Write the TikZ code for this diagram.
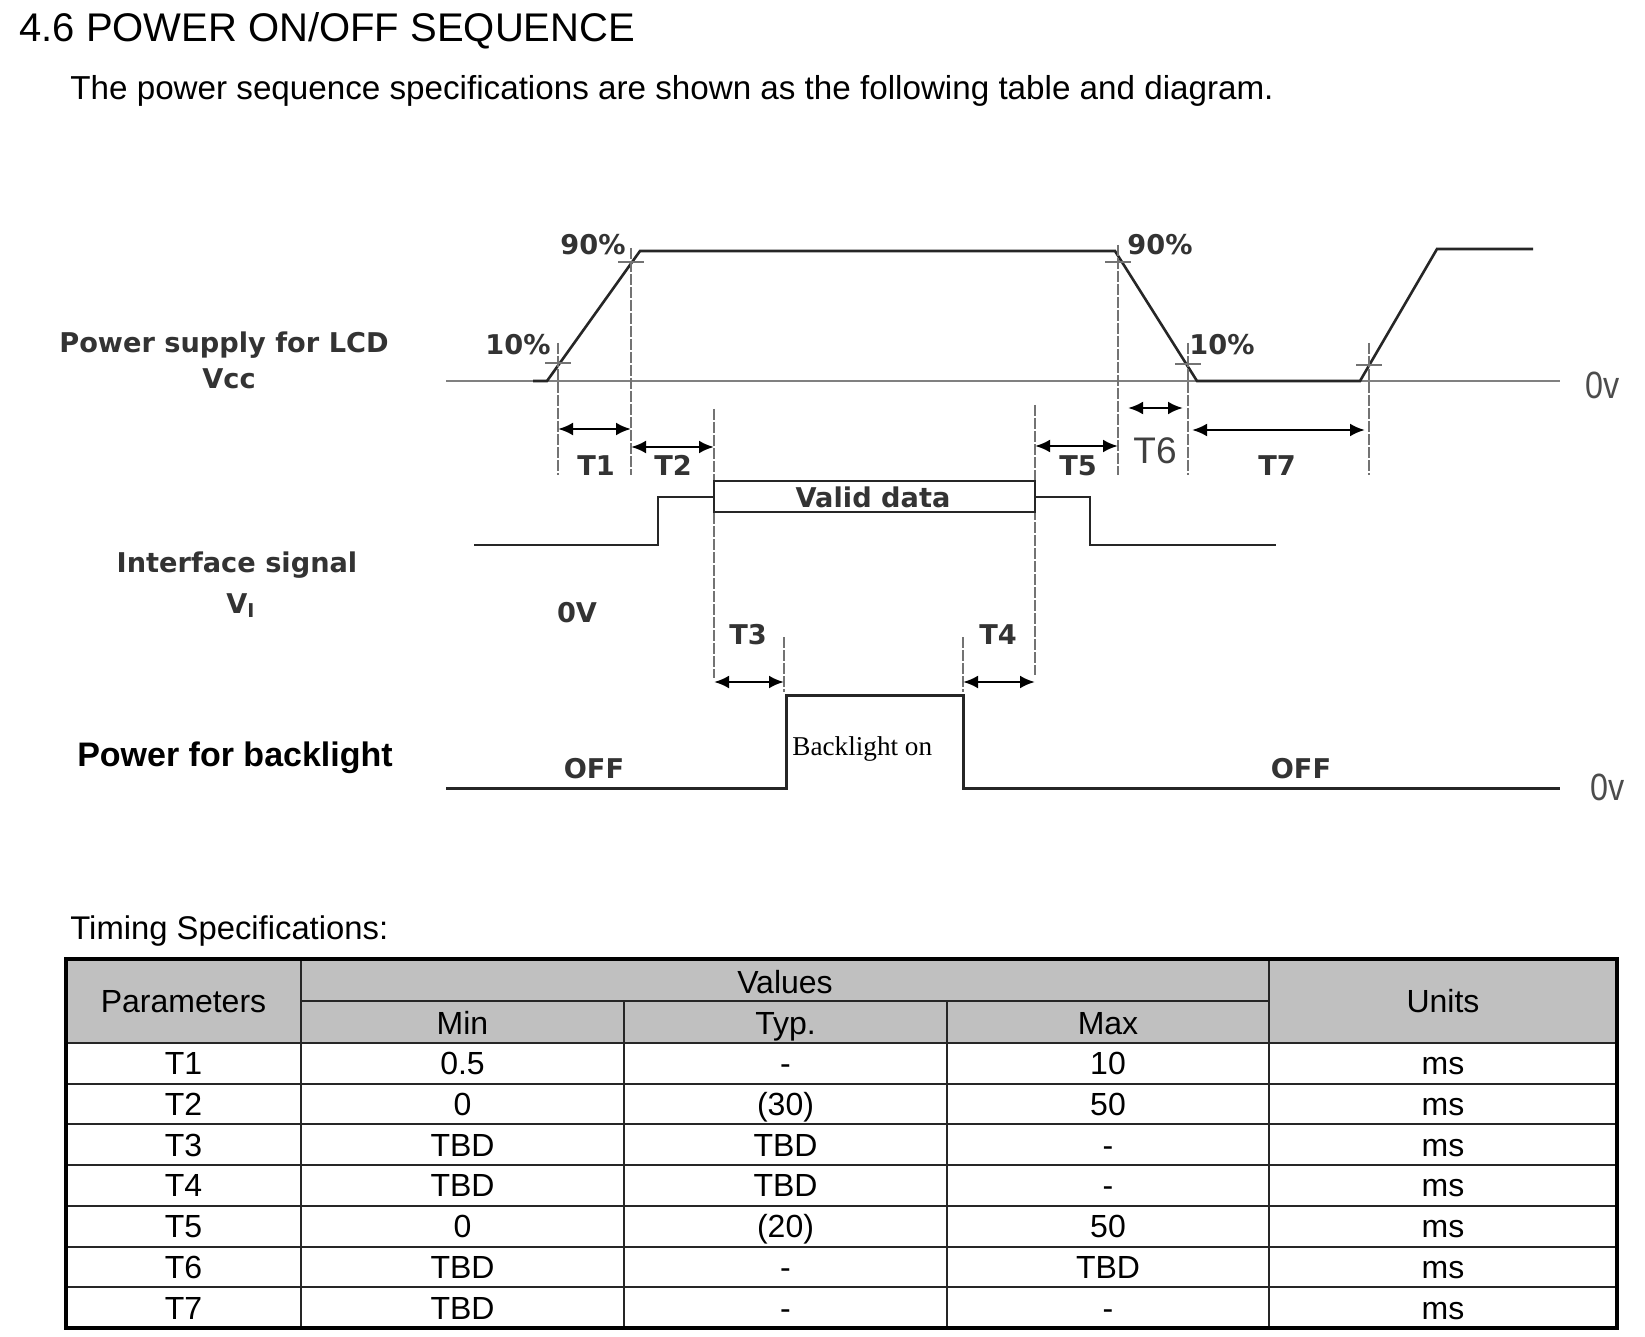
\documentclass[tikz,border=0pt]{standalone}
\usepackage{fontspec}
\setmainfont{Liberation Sans}
\newfontfamily\djf{DejaVu Sans}
\newfontfamily\serf{Liberation Serif}
\usetikzlibrary{arrows.meta}
\definecolor{hdrgray}{HTML}{C0C0C0}
\definecolor{inkgray}{HTML}{333333}
\tikzset{
  sig/.style={line width=1.3pt, draw=black!85},
  zeroline/.style={line width=1.1pt, draw=black!50},
  guide/.style={line width=0.9pt, draw=black!55, dash pattern=on 5.5pt off 1pt},
  tickmark/.style={line width=0.9pt, draw=black!55},
  dimarrow/.style={line width=1.4pt, {Latex[length=7.5pt,width=6.5pt]}-{Latex[length=7.5pt,width=6.5pt]}},
  lbl/.style={inner sep=0pt, anchor=base, text=inkgray, font=\djf\bfseries\fontsize{13.6}{16}\selectfont},
  cell/.style={inner sep=0pt, anchor=base, font=\fontsize{16}{19}\selectfont},
  tline/.style={line width=1pt, draw=black!85},
}
\begin{document}
\begin{tikzpicture}[x=0.5pt,y=-0.5pt]
\useasboundingbox (0,0) rectangle (1645,1337);
\fill[white] (0,0) rectangle (1645,1337);

% ---- heading texts
\node[inner sep=0pt, anchor=base west, font=\fontsize{20}{24}\selectfont] (title) at (19,42) {4.6 POWER ON/OFF SEQUENCE};
\node[inner sep=0pt, anchor=base west, font=\fontsize{16.6}{20}\selectfont] (subtitle) at (70,100) {The power sequence specifications are shown as the following table and diagram.};

% ---- left labels
\node[lbl] (lcd) at (224,353) {Power supply for LCD};
\node[lbl] (vcc) at (229,388) {Vcc};
\node[lbl] (ifs) at (237,572) {Interface signal};
\node[lbl] (vi) at (241,613) {V\textsubscript{I}};
\node[inner sep=0pt, anchor=base, font=\bfseries\fontsize{17}{20}\selectfont] (bl) at (235,766) {Power for backlight};

% ---- key coordinates
\coordinate (z0) at (446,381);  \coordinate (z1) at (1560,381);
\coordinate (v0) at (533,381);  \coordinate (v1) at (547,381);
\coordinate (v2) at (640,251);  \coordinate (v3) at (1115,251);
\coordinate (v4) at (1197,381); \coordinate (v5) at (1360,381);
\coordinate (v6) at (1437,249); \coordinate (v7) at (1533,249);

% zero line and Vcc
\draw[zeroline] (z0) -- (z1);
\draw[sig] (v0) -- (v1) -- (v2) -- (v3) -- (v4) -- (v5) -- (v6) -- (v7);

% tick crosses
\foreach \n/\x/\y in {ta/558/363, tb/631/262, tc/1118/262, td/1188/364, te/1369/365}{
  \coordinate (\n) at (\x,\y);
  \draw[tickmark] ([xshift=-6.5pt]\n) -- ([xshift=6.5pt]\n);
}

% guide lines
\foreach \n/\x/\ya/\yb in {ga/558/343/475, gb/631/248/475, gc/714/409/678, gd/784/637/692,
   ge/963/637/692, gf/1035/405/675, gg/1118/245/475, gh/1188/343/475, gi/1369/343/475}{
  \coordinate (\n1) at (\x,\ya); \coordinate (\n2) at (\x,\yb);
  \draw[guide] (\n1) -- (\n2);
}

% interface signal
\coordinate (i0) at (474,545); \coordinate (i1) at (658,545); \coordinate (i2) at (658,497);
\coordinate (i3) at (714,497); \coordinate (i4) at (1035,497); \coordinate (i5) at (1090,497);
\coordinate (i6) at (1090,545); \coordinate (i7) at (1276,545);
\draw[sig] (i0) -- (i1) -- (i2) -- (i3);
\draw[sig] (i4) -- (i5) -- (i6) -- (i7);
\node[sig, draw, rectangle, minimum width=160.5pt, minimum height=15.5pt, inner sep=0pt] (valid) at (874.5,496.5) {};
\node[lbl] (validtxt) at (873,507) {Valid data};

% backlight
\coordinate (b0) at (446,788); \coordinate (b1) at (786,788); \coordinate (b2) at (786,695);
\coordinate (b3) at (963,695); \coordinate (b4) at (963,788); \coordinate (b5) at (1560,788);
\draw[sig, line width=1.5pt] (b0) -- (b1) -- (b2) -- (b3) -- (b4) -- (b5);

% dimension arrows
\foreach \n/\xa/\xb/\y in {d1/558/631/429, d2/631/714/447, d3/714/784/682, d4/963/1035/682,
   d5/1035/1118/446, d6/1128/1183/408, d7/1192/1365/430}{
  \coordinate (\n a) at (\xa,\y); \coordinate (\n b) at (\xb,\y);
  \draw[dimarrow] (\n a) -- (\n b);
}

% labels on diagram
\node[lbl] (p90a) at (593,255) {90\%};
\node[lbl] (p10a) at (518,355) {10\%};
\node[lbl] (p90b) at (1160,255) {90\%};
\node[lbl] (p10b) at (1222,355) {10\%};
\node[lbl] (lt1) at (596,475) {T1};
\node[lbl] (lt2) at (673,475) {T2};
\node[lbl] (lt5) at (1078,475) {T5};
\node[lbl] (lt7) at (1277,475) {T7};
\node[inner sep=0pt, anchor=base, text=black!75, font=\fontsize{18.5}{22}\selectfont] (lt6) at (1155,464) {T6};
\node[lbl] (lt3) at (748,644) {T3};
\node[lbl] (lt4) at (998,644) {T4};
\node[lbl] (ov) at (577,622) {0V};
\node[lbl] (off1) at (594,778) {OFF};
\node[lbl] (off2) at (1301,778) {OFF};
\node[inner sep=0pt, anchor=base west, font=\serf\fontsize{13.6}{16}\selectfont] (blon) at (792,755) {Backlight on};
\node[inner sep=0pt, anchor=base, text=black!70, font=\fontsize{19}{22}\selectfont] (ov1) at (1603,399) {\scalebox{0.85}[1]{0v}};
\node[inner sep=0pt, anchor=base, text=black!70, font=\fontsize{19}{22}\selectfont] (ov2) at (1608,800) {\scalebox{0.85}[1]{0v}};

% ---- table
\node[inner sep=0pt, anchor=base west, font=\fontsize{16.4}{20}\selectfont] (ts) at (70,939) {Timing Specifications:};
\fill[hdrgray] (66,959) rectangle (1617,1043);
\foreach \k in {1,...,6}{
  \pgfmathsetmacro{\yy}{1043+40.7*\k}
  \draw[tline] (66,\yy) -- (1617,\yy);
}
\draw[tline, line width=1.3pt] (66,1043) -- (1617,1043);
\draw[tline] (301,1001) -- (1269,1001);
\draw[tline] (301,959) -- (301,1328);
\draw[tline] (1269,959) -- (1269,1328);
\draw[tline] (624,1001) -- (624,1328);
\draw[tline] (947,1001) -- (947,1328);
\draw[line width=2.2pt] (66,959) rectangle (1617,1328);

\node[cell] (hpar) at (183.5,1012) {Parameters};
\node[cell] (hval) at (785,993) {Values};
\node[cell] (hmin) at (462.5,1034) {Min};
\node[cell] (htyp) at (785.5,1034) {Typ.};
\node[cell] (hmax) at (1108,1034) {Max};
\node[cell] (hunit) at (1443,1012) {Units};

\foreach \p/\a/\b/\c [count=\i] in {T1/0.5/-/10, T2/0/(30)/50, T3/TBD/TBD/-, T4/TBD/TBD/-,
   T5/0/(20)/50, T6/TBD/-/TBD, T7/TBD/-/-}{
  \pgfmathsetmacro{\yb}{1043+40.7*(\i-0.5)+11.5}
  \node[cell] (c\i p) at (183.5,\yb) {\p};
  \node[cell] (c\i a) at (462.5,\yb) {\a};
  \node[cell] (c\i b) at (785.5,\yb) {\b};
  \node[cell] (c\i c) at (1108,\yb) {\c};
  \node[cell] (c\i u) at (1443,\yb) {ms};
}
\end{tikzpicture}
\end{document}
